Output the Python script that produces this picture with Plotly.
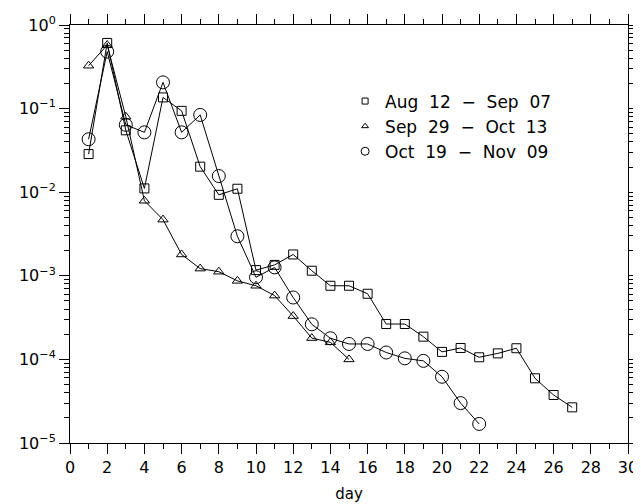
import plotly.graph_objects as go

days_a = list(range(1, 28))
vals_a = [0.0286, 0.61, 0.055, 0.0111, 0.136, 0.094, 0.0202, 0.0093, 0.011,
          0.00117, 0.00135, 0.0018, 0.00115, 0.00076, 0.00076, 0.00061,
          0.000265, 0.000265, 0.000187, 0.000123, 0.000137, 0.000106,
          0.000118, 0.000136, 5.94e-5, 3.75e-5, 2.67e-5]

days_b = list(range(1, 16))
vals_b = [0.326, 0.577, 0.08, 0.0079, 0.0047, 0.0018, 0.00122, 0.00112,
          0.00087, 0.00076, 0.00058, 0.00033, 0.00018, 0.00016, 0.0001]

days_c = list(range(1, 23))
vals_c = [0.043, 0.48, 0.064, 0.052, 0.206, 0.052, 0.084, 0.0156, 0.00297,
          0.00096, 0.00126, 0.00055, 0.000263, 0.000179, 0.000153, 0.000153,
          0.000121, 0.000103, 9.6e-5, 6.2e-5, 3.0e-5, 1.69e-5]

SP = "\u00a0\u00a0"
names = [f"Aug{SP}12{SP}\u2212{SP}Sep{SP}07",
         f"Sep{SP}29{SP}\u2212{SP}Oct{SP}13",
         f"Oct{SP}19{SP}\u2212{SP}Nov{SP}09"]

y_tickvals = [1e0, 1e-1, 1e-2, 1e-3, 1e-4, 1e-5]
y_ticktext = ["10<sup>0</sup>", "10<sup>\u22121</sup>", "10<sup>\u22122</sup>",
              "10<sup>\u22123</sup>", "10<sup>\u22124</sup>", "10<sup>\u22125</sup>"]
x_tickvals = list(range(0, 31, 2))

FONT = "DejaVu Sans"

fig = go.Figure()
series = [(days_a, vals_a, "square-open", 9, 6),
          (days_b, vals_b, "triangle-up-open", 9, 6),
          (days_c, vals_c, "circle-open", 13, 8)]
for i, (xs, ys, sym, sz, lsz) in enumerate(series):
    fig.add_trace(go.Scatter(x=xs, y=ys, mode="lines+markers",
                             line=dict(color="black", width=1),
                             marker=dict(symbol=sym, size=sz, color="black",
                                         line=dict(width=1, color="black")),
                             showlegend=False))
    fig.add_trace(go.Scatter(x=[None], y=[None], mode="markers", name=names[i],
                             legendgroup=str(i),
                             marker=dict(symbol=sym, size=lsz, color="black",
                                         line=dict(width=1, color="black"))))

# page body has an 8px margin, so the figure is 8px smaller and shifted
fig.update_layout(
    width=633, height=496,
    margin=dict(l=62, r=13, t=17, b=61, autoexpand=False),
    paper_bgcolor="white", plot_bgcolor="white",
    font=dict(family=FONT, size=15, color="black"),
    showlegend=True,
    legend=dict(x=0.493, y=0.86, xanchor="left", yanchor="top",
                bgcolor="rgba(0,0,0,0)", font=dict(size=17),
                traceorder="grouped", tracegroupgap=0, itemwidth=30),
    xaxis=dict(range=[0, 30], tickvals=x_tickvals, ticks="outside", ticklen=10,
               tickwidth=1, tickcolor="black", showline=True, linecolor="black",
               linewidth=1, mirror="ticks", showgrid=False, zeroline=False,
               automargin=False,
               minor=dict(dtick=1, ticks="outside", ticklen=5, tickcolor="black",
                          showgrid=False),
               title=dict(text="day", font=dict(size=15), standoff=12),
               tickfont=dict(size=16)),
    yaxis=dict(type="log", range=[-5, 0], tickvals=y_tickvals, ticktext=y_ticktext,
               ticks="outside", ticklen=10, tickwidth=1, tickcolor="black",
               showline=True, linecolor="black", linewidth=1, mirror="ticks",
               showgrid=False, zeroline=False, automargin=False,
               minor=dict(dtick="D1", ticks="outside", ticklen=5, tickcolor="black",
                          showgrid=False),
               tickfont=dict(size=16)),
)

fig.write_html("out.html")
